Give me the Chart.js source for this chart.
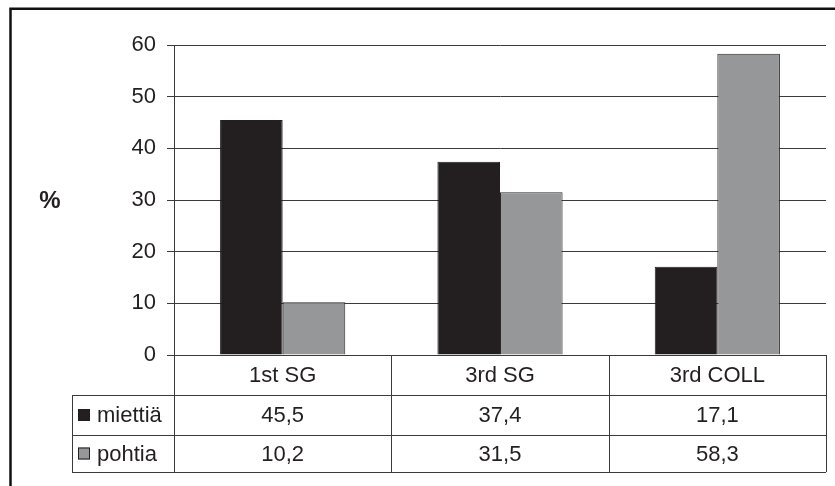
<!DOCTYPE html>
<html>
<head>
<meta charset="utf-8">
<script src="https://cdn.jsdelivr.net/npm/chart.js@4"></script>
<style>
  html, body { margin: 0; padding: 0; background: #fff; }
  #wrap { width: 835px; height: 486px; position: relative; }
</style>
</head>
<body>
<div id="wrap"><canvas id="chart"></canvas></div>
<script>
// data
const categories = ['1st SG', '3rd SG', '3rd COLL'];
const seriesNames = ['miettiä', 'pohtia'];
const miettia = [45.5, 37.4, 17.1];
const pohtia = [10.2, 31.5, 58.3];
const miettiaLabels = ['45,5', '37,4', '17,1'];
const pohtiaLabels = ['10,2', '31,5', '58,3'];
const yTicks = [0, 10, 20, 30, 40, 50, 60];

const BLACK = '#231f20';
const GREY = '#969798';
const LINE = '#3a3a3a';
const FONT = '"Liberation Sans", Arial, Helvetica, sans-serif';

// draws the data table under the plot, the "%" title and the outer frame
const tablePlugin = {
  id: 'dataTable',
  afterDraw(chart) {
    const ctx = chart.ctx;
    const x = chart.scales.x;
    const area = chart.chartArea;
    const half = (x.getPixelForTick(1) - x.getPixelForTick(0)) / 2;
    const rows = [area.bottom, area.bottom + 40, area.bottom + 80, area.bottom + 117];
    const tableLeft = 72;

    ctx.save();
    ctx.strokeStyle = LINE;
    ctx.lineWidth = 1;

    // horizontal lines
    ctx.beginPath();
    ctx.moveTo(area.left, rows[0] + 0.5); ctx.lineTo(area.right, rows[0] + 0.5);
    for (let r = 1; r < rows.length; r++) {
      ctx.moveTo(tableLeft, rows[r] + 0.5); ctx.lineTo(area.right, rows[r] + 0.5);
    }
    // vertical lines
    ctx.moveTo(tableLeft + 0.5, rows[1]); ctx.lineTo(tableLeft + 0.5, rows[3]);
    ctx.moveTo(Math.round(area.left) + 0.5, rows[0]); ctx.lineTo(Math.round(area.left) + 0.5, rows[3]);
    categories.forEach((c, i) => {
      const px = Math.round(x.getPixelForTick(i) + half) + 0.5;
      ctx.moveTo(px, rows[0]); ctx.lineTo(px, rows[3]);
    });
    ctx.stroke();

    // text
    ctx.fillStyle = BLACK;
    ctx.font = '22px ' + FONT;
    ctx.textAlign = 'center';
    ctx.textBaseline = 'middle';
    const values = [miettiaLabels, pohtiaLabels];
    categories.forEach((c, i) => {
      const cx = x.getPixelForTick(i);
      ctx.fillText(c, cx, (rows[0] + rows[1]) / 2 + 1);
      ctx.fillText(values[0][i], cx, (rows[1] + rows[2]) / 2 + 1);
      ctx.fillText(values[1][i], cx, (rows[2] + rows[3]) / 2 + 1);
    });

    // legend keys in the row headers
    const colors = [BLACK, GREY];
    ctx.textAlign = 'left';
    seriesNames.forEach((name, s) => {
      const cy = (rows[s + 1] + rows[s + 2]) / 2;
      ctx.fillStyle = colors[s];
      ctx.fillRect(78, cy - 6, 12, 12);
      ctx.strokeStyle = BLACK;
      ctx.strokeRect(78.5, cy - 5.5, 11, 11);
      ctx.fillStyle = BLACK;
      ctx.fillText(name, 97, cy + 1);
    });

    // axis title
    ctx.textAlign = 'center';
    ctx.font = 'bold 24px ' + FONT;
    ctx.fillText('%', 50, (area.top + area.bottom) / 2 + 1);

    // outer frame (runs off the right and bottom edges)
    ctx.strokeStyle = '#111';
    ctx.lineWidth = 2.5;
    ctx.beginPath();
    ctx.moveTo(10.5, 900); ctx.lineTo(10.5, 8.8); ctx.lineTo(900, 8.8);
    ctx.stroke();
    ctx.restore();
  }
};

new Chart(document.getElementById('chart'), {
  type: 'bar',
  data: {
    labels: categories,
    datasets: [
      { label: seriesNames[0], data: miettia, backgroundColor: BLACK, borderColor: BLACK, borderWidth: 1 },
      { label: seriesNames[1], data: pohtia, backgroundColor: GREY, borderColor: '#2a2a2a', borderWidth: 1 }
    ]
  },
  options: {
    responsive: true,
    maintainAspectRatio: false,
    animation: false,
    devicePixelRatio: 1,
    layout: { padding: { top: 45, right: 9, bottom: 131, left: 0 } },
    plugins: { legend: { display: false }, tooltip: { enabled: false } },
    datasets: { bar: { categoryPercentage: 0.576, barPercentage: 1 } },
    scales: {
      x: {
        display: false
      },
      y: {
        min: 0,
        max: 60,
        afterFit(scale) { scale.width = 174; },
        afterBuildTicks(scale) { scale.ticks = yTicks.map(v => ({ value: v })); },
        grid: { color: LINE, lineWidth: 1, tickLength: 7, tickColor: LINE, drawTicks: true },
        border: { display: true, color: LINE, width: 1 },
        ticks: {
          padding: 11,
          color: BLACK,
          font: { family: FONT, size: 22 }
        }
      }
    }
  },
  plugins: [tablePlugin]
});
</script>
</body>
</html>
